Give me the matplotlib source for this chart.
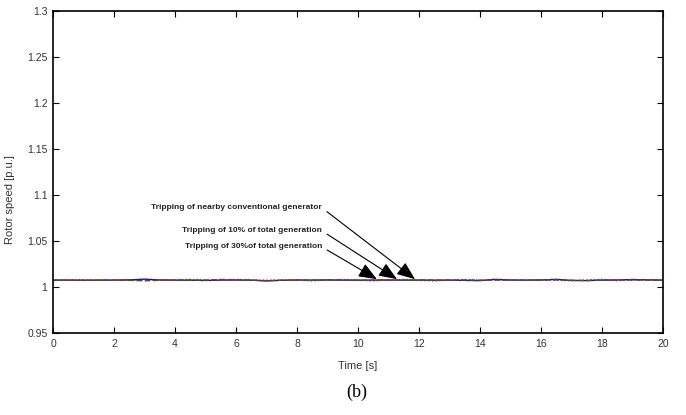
import numpy as np
import matplotlib.pyplot as plt

# Rotor speed traces, every 0.5 s
time_s = np.arange(0, 20.5, 0.5)

speed_nearby = [1.0075, 1.0075, 1.0074, 1.0075, 1.0075, 1.0077, 1.0085, 1.0076, 1.0075, 1.0074,
                1.0071, 1.0075, 1.0076, 1.0074, 1.0066, 1.0073, 1.0076, 1.0075, 1.0076, 1.0075,
                1.0074, 1.0075, 1.0076, 1.0075, 1.0075, 1.0074, 1.0075, 1.0072, 1.0069, 1.0083,
                1.0076, 1.0075, 1.0076, 1.0083, 1.0071, 1.0070, 1.0075, 1.0076, 1.0081, 1.0077,
                1.0075]
speed_10pct = [1.0074, 1.0073, 1.0072, 1.0073, 1.0074, 1.0072, 1.0067, 1.0073, 1.0075, 1.0074,
               1.0075, 1.0082, 1.0078, 1.0074, 1.0069, 1.0073, 1.0075, 1.0074, 1.0076, 1.0075,
               1.0074, 1.0073, 1.0075, 1.0074, 1.0076, 1.0075, 1.0074, 1.0076, 1.0074, 1.0075,
               1.0074, 1.0073, 1.0075, 1.0077, 1.0073, 1.0069, 1.0074, 1.0075, 1.0076, 1.0075,
               1.0074]
speed_30pct = [1.0076, 1.0075, 1.0077, 1.0074, 1.0076, 1.0075, 1.0074, 1.0076, 1.0077, 1.0083,
               1.0075, 1.0077, 1.0082, 1.0076, 1.0073, 1.0075, 1.0074, 1.0067, 1.0077, 1.0082,
               1.0073, 1.0066, 1.0076, 1.0083, 1.0072, 1.0066, 1.0075, 1.0082, 1.0074, 1.0075,
               1.0074, 1.0075, 1.0076, 1.0073, 1.0068, 1.0075, 1.0083, 1.0069, 1.0075, 1.0074,
               1.0075]

labels = ["Tripping of nearby conventional generator",
          "Tripping of 10% of total generation",
          "Tripping of 30%of total generation"]
label_xy = [(8.82, 1.086), (8.82, 1.061), (8.82, 1.0435)]
arrow_tip = [(11.87, 1.0085), (11.28, 1.0085), (10.62, 1.0085)]

xticks = np.arange(0, 21, 2)
yticks = [0.95, 1.0, 1.05, 1.1, 1.15, 1.2, 1.25, 1.3]
ytick_labels = ["0.95", "1", "1.05", "1.1", "1.15", "1.2", "1.25", "1.3"]

plt.rcParams['font.family'] = ['Liberation Sans', 'DejaVu Sans']

fig = plt.figure(figsize=(6.86, 4.15), dpi=100)
ax = fig.add_axes([0.0773, 0.1976, 0.889, 0.776])

ax.plot(time_s, speed_nearby, color='#0000ff', lw=1.0, ls='-')
ax.plot(time_s, speed_10pct, color='#008000', lw=1.0, ls='--', dashes=(4, 2))
ax.plot(time_s, speed_30pct, color='#ff0000', lw=1.0, ls=':')

for text, xy, tip in zip(labels, label_xy, arrow_tip):
   ax.annotate(text, xy=tip, xytext=xy, ha='right', va='center',
               fontsize=6, fontweight='bold', color='#222222',
               arrowprops=dict(arrowstyle='-|>,head_length=0.7,head_width=0.28',
                               color='k', lw=0.8, mutation_scale=16,
                               shrinkA=2, shrinkB=0, relpos=(1.0, 0.5)))

ax.set_xlim(0, 20)
ax.set_ylim(0.95, 1.3)
ax.set_xticks(xticks)
ax.set_yticks(yticks)
ax.set_yticklabels(ytick_labels)
ax.tick_params(direction='in', top=True, right=True, length=4, width=0.8,
               labelsize=7.5, pad=4, colors='k', labelcolor='#333333')
for spine in ax.spines.values():
   spine.set_linewidth(1.2)

ax.set_xlabel("Time [s]", fontsize=8, color='#333333', labelpad=9)
ax.set_ylabel("Rotor speed [p.u.]", fontsize=8, color='#333333')
ax.yaxis.set_label_coords(-0.062, 0.413)

fig.text(0.52, 0.055, "(b)", fontsize=13, family='Liberation Serif',
         ha='center', va='center')

fig.savefig('out.png', dpi=100)
